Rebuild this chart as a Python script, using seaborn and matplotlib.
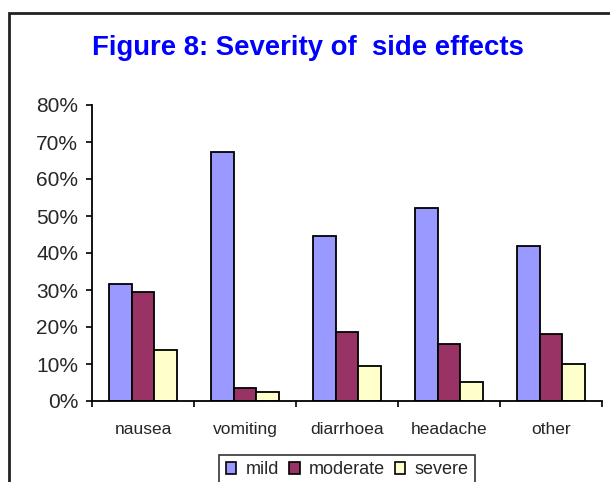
import matplotlib
matplotlib.use("Agg")
import matplotlib.pyplot as plt
from matplotlib.patches import Rectangle, Patch
from matplotlib.ticker import PercentFormatter
import seaborn as sns
import pandas as pd

# Side effects and share of reports by severity
effects = ["nausea", "vomiting", "diarrhoea", "headache", "other"]
severities = ["mild", "moderate", "severe"]
mild = [0.317, 0.674, 0.446, 0.522, 0.419]
moderate = [0.295, 0.036, 0.187, 0.155, 0.182]
severe = [0.139, 0.025, 0.095, 0.052, 0.101]
y_ticks = [0.0, 0.1, 0.2, 0.3, 0.4, 0.5, 0.6, 0.7, 0.8]

colors = {"mild": "#9999FF", "moderate": "#993366", "severe": "#FFFFCC"}

df = pd.DataFrame({
    "effect": effects * 3,
    "severity": ["mild"] * 5 + ["moderate"] * 5 + ["severe"] * 5,
    "share": mild + moderate + severe,
})

sns.set_style("white")
plt.rcParams["font.family"] = ["Liberation Sans", "DejaVu Sans"]

W, H = 610, 482
fig = plt.figure(figsize=(W / 100, H / 100), dpi=100)
ax = fig.add_axes([92 / W, (H - 401) / H, 510 / W, 296 / H])

sns.barplot(data=df, x="effect", y="share", hue="severity", order=effects,
            hue_order=severities, palette=colors, width=0.66, gap=0,
            edgecolor="black", linewidth=1.3, saturation=1, ax=ax,
            legend=False)

ax.set_xlim(-0.5, len(effects) - 0.5)
ax.set_ylim(0, 0.8)
ax.set_yticks(y_ticks)
ax.yaxis.set_major_formatter(PercentFormatter(1.0, decimals=0))
ax.set_xlabel("")
ax.set_ylabel("")
ax.set_xticks(range(len(effects)))
ax.set_xticklabels(effects)
ax.set_xticks([i - 0.5 for i in range(len(effects) + 1)], minor=True)
ax.tick_params(axis="x", which="major", length=0, pad=15, labelsize=12.5)
ax.tick_params(axis="x", which="minor", length=4.5, width=1.2,
               direction="out", color="black", bottom=True)
ax.tick_params(axis="y", length=4, width=1.2, direction="out", pad=6,
               labelsize=15, color="black", left=True)
for side in ("top", "right"):
    ax.spines[side].set_visible(False)
for side in ("left", "bottom"):
    ax.spines[side].set_color("black")
    ax.spines[side].set_linewidth(1.3)

fig.text(308 / W, 1 - 48 / H, "Figure 8: Severity of  side effects",
         ha="center", va="center", color="#0000FF", fontsize=19.8,
         fontweight="bold")

# chart area border, running off the right and bottom edges
fig.patches.append(Rectangle((9 / W, 0 - 0.05), 1.2, 1 - 13 / H + 0.05,
                             transform=fig.transFigure, fill=False,
                             edgecolor="#222222", linewidth=2,
                             clip_on=False))

handles = [Patch(facecolor=colors[s], edgecolor="black", linewidth=1.2)
           for s in severities]
leg = fig.legend(handles, severities, loc="upper center",
                 bbox_to_anchor=(347 / W, 1 - 455 / H), ncol=3,
                 frameon=True, fontsize=13, handlelength=0.6,
                 handleheight=0.6, handletextpad=0.5, columnspacing=0.55,
                 borderpad=0.35, fancybox=False, borderaxespad=0)
leg.get_frame().set_edgecolor("black")
leg.get_frame().set_linewidth(1.2)

fig.savefig("out.png", dpi=100)
